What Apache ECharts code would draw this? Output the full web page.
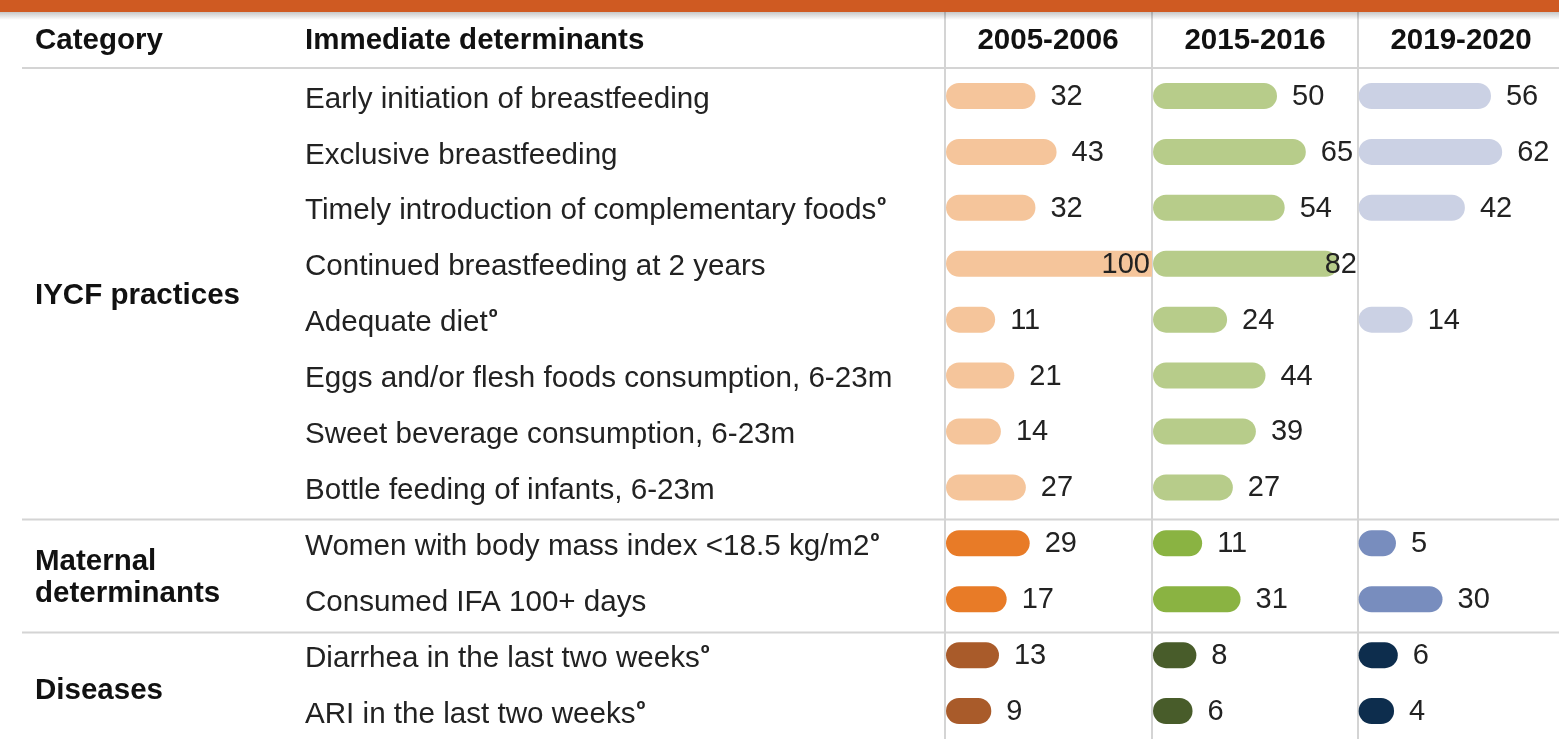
<!DOCTYPE html>
<html>
<head>
<meta charset="utf-8">
<script src="https://cdn.jsdelivr.net/npm/echarts@6/dist/echarts.min.js"></script>
<style>
  html, body { margin: 0; padding: 0; background: #fff; }
  #chart { width: 1559px; height: 739px; }
</style>
</head>
<body>
<div id="chart"></div>
<script>
  // 数据
  var determinants = [
    'Early initiation of breastfeeding',
    'Exclusive breastfeeding',
    'Timely introduction of complementary foodsº',
    'Continued breastfeeding at 2 years',
    'Adequate dietº',
    'Eggs and/or flesh foods consumption, 6-23m',
    'Sweet beverage consumption, 6-23m',
    'Bottle feeding of infants, 6-23m',
    'Women with body mass index <18.5 kg/m2º',
    'Consumed IFA 100+ days',
    'Diarrhea in the last two weeksº',
    'ARI in the last two weeksº'
  ];
  var rowGroup = [0, 0, 0, 0, 0, 0, 0, 0, 1, 1, 2, 2];
  var groupNames = ['IYCF practices', 'Maternal\ndeterminants', 'Diseases'];
  var years = ['2005-2006', '2015-2016', '2019-2020'];
  var values2005 = [32, 43, 32, 100, 11, 21, 14, 27, 29, 17, 13, 9];
  var values2015 = [50, 65, 54, 82, 24, 44, 39, 27, 11, 31, 8, 6];
  var values2019 = [56, 62, 42, null, 14, null, null, null, 5, 30, 6, 4];
  var valuesByYear = [values2005, values2015, values2019];

  // 颜色: 每列 [IYCF, Maternal, Diseases]
  var colors = [
    ['#F5C59B', '#E87B27', '#A95B2A'],
    ['#B7CC8A', '#8AB342', '#485C2A'],
    ['#CBD1E4', '#788DBE', '#0D2D4D']
  ];

  var FONT = "'Liberation Sans', Arial, sans-serif";
  var colLeft = [946, 1153, 1359];
  var colW = 206;
  var gridTop = 68, rowH = 56.45;
  var lineColor = '#d4d4d4';

  function renderBar(params, api) {
    var v = api.value(0);
    var row = api.value(1);
    var k = params.seriesIndex;
    var p0 = api.coord([0, row]);
    var p1 = api.coord([v, row]);
    var colEnd = colLeft[k] + colW;
    var h = 26;
    var x0 = p0[0] - 14;
    var x1 = p1[0] + 14;
    var r = [13, 13, 13, 13];
    if (x1 > colEnd) {
      x1 = colEnd;
      r = [13, 0, 0, 13];
    }
    var txt = String(v);
    var tw = txt.length * 0.556 * 29;
    var lx = x1 + 15, align = 'left';
    if (lx + tw > colEnd - 2) {
      lx = colEnd - 2;
      align = 'right';
    }
    return {
      type: 'group',
      children: [{
        type: 'rect',
        shape: { x: x0, y: p1[1] - h / 2, width: x1 - x0, height: h, r: r },
        style: { fill: colors[k][rowGroup[row]] }
      }, {
        type: 'text',
        z2: 10,
        style: {
          text: txt, x: lx, y: p1[1] + 1, align: align, verticalAlign: 'middle',
          font: '29px ' + FONT, fill: '#222'
        }
      }]
    };
  }

  function labelFormatter(s) {
    if (s.charAt(s.length - 1) === 'º') {
      return '{t|' + s.slice(0, -1) + '}{s|º}';
    }
    return '{t|' + s + '}';
  }

  var grids = [], xAxes = [], yAxes = [], series = [];
  colLeft.forEach(function (left, k) {
    grids.push({ left: left, top: gridTop, width: colW, height: rowH * determinants.length });
    xAxes.push({
      type: 'value', gridIndex: k, min: -7.3, max: 100, show: false
    });
    yAxes.push({
      type: 'category', gridIndex: k, inverse: true, data: determinants,
      axisLine: { show: false }, axisTick: { show: false }, splitLine: { show: false },
      axisLabel: {
        show: k === 0,
        margin: left - 305,
        align: 'left',
        padding: [7, 0, 0, 0],
        formatter: labelFormatter,
        rich: {
          t: { fontSize: 29.6, fontFamily: FONT, color: '#222' },
          s: { fontSize: 24, fontWeight: 'bold', fontFamily: FONT, color: '#222', padding: [0, 0, 7, 1] }
        }
      }
    });
    var data = [];
    valuesByYear[k].forEach(function (v, i) {
      if (v != null) data.push([v, i]);
    });
    series.push({
      type: 'custom', xAxisIndex: k, yAxisIndex: k,
      renderItem: renderBar, data: data, silent: true
    });
  });

  // 表格线和标题
  var graphics = [
    { type: 'rect', shape: { x: 0, y: 0, width: 1559, height: 12 }, style: { fill: '#CF5A22' }, z: 10 },
    {
      type: 'rect', shape: { x: 0, y: 12, width: 1559, height: 8 }, z: 9,
      style: {
        fill: {
          type: 'linear', x: 0, y: 0, x2: 0, y2: 1,
          colorStops: [
            { offset: 0, color: 'rgba(0,0,0,0.22)' },
            { offset: 1, color: 'rgba(0,0,0,0)' }
          ]
        }
      }
    }
  ];
  [gridTop, gridTop + rowH * 8, gridTop + rowH * 10].forEach(function (y) {
    graphics.push({
      type: 'line', shape: { x1: 22, y1: y, x2: 1559, y2: y },
      style: { stroke: lineColor, lineWidth: 2 }
    });
  });
  colLeft.forEach(function (x) {
    graphics.push({
      type: 'line', shape: { x1: x - 1, y1: 12, x2: x - 1, y2: 739 },
      style: { stroke: lineColor, lineWidth: 2 }
    });
  });
  function headText(text, x, align) {
    return {
      type: 'text',
      style: {
        text: text, x: x, y: 41, align: align, verticalAlign: 'middle',
        font: 'bold 29.5px ' + FONT, fill: '#111'
      }
    };
  }
  graphics.push(headText('Category', 35, 'left'));
  graphics.push(headText('Immediate determinants', 305, 'left'));
  years.forEach(function (yr, k) {
    graphics.push(headText(yr, colLeft[k] + 102, 'center'));
  });
  // 分类名称
  groupNames.forEach(function (name, g) {
    var first = rowGroup.indexOf(g), last = rowGroup.lastIndexOf(g);
    var cy = gridTop + rowH * (first + last + 1) / 2;
    graphics.push({
      type: 'text',
      style: {
        text: name, x: 35, y: cy + 2, verticalAlign: 'middle', lineHeight: 32,
        font: 'bold 29.5px ' + FONT, fill: '#111'
      }
    });
  });

  var chart = echarts.init(document.getElementById('chart'));
  chart.setOption({
    animation: false,
    backgroundColor: '#fff',
    grid: grids,
    xAxis: xAxes,
    yAxis: yAxes,
    series: series,
    graphic: graphics
  });
</script>
</body>
</html>
